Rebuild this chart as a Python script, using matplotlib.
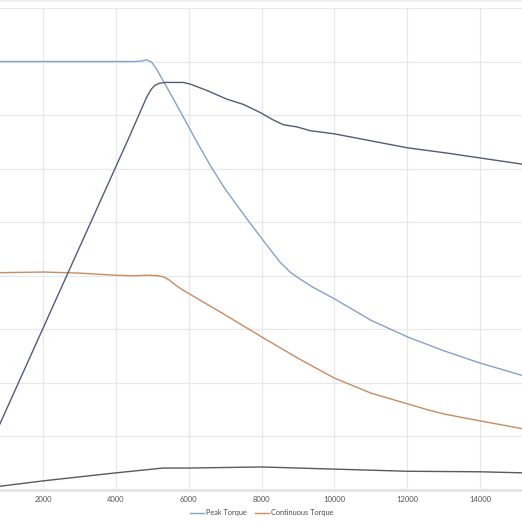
import matplotlib
matplotlib.use("Agg")
import matplotlib.pyplot as plt
from matplotlib.lines import Line2D

# ---- data (rpm vs. values) ----
peak_torque_rpm = [0, 4500, 4700, 4850, 4980, 5100, 5250, 5400, 5800, 6200, 6600, 7000,
                   7600, 8000, 8500, 8800, 9100, 9400, 10000, 11000, 12000, 13000, 14000, 15200]
peak_torque = [80.0, 80.0, 80.1, 80.3, 79.9, 78.8, 77.0, 75.2, 70.3, 65.3, 60.5, 56.2,
               50.6, 47.0, 42.6, 40.6, 39.2, 37.9, 35.7, 31.7, 28.6, 26.0, 23.7, 21.3]

cont_torque_rpm = [0, 2000, 3000, 4000, 4500, 4900, 5150, 5300, 5450, 5650, 5850, 6000, 7000,
                   8000, 9000, 10000, 11000, 12000, 12500, 13000, 14000, 15200]
cont_torque = [40.5, 40.7, 40.5, 40.1, 40.0, 40.1, 40.0, 39.8, 39.3, 38.2, 37.3, 36.7, 32.7,
               28.6, 24.6, 20.9, 18.1, 16.1, 15.1, 14.2, 12.9, 11.4]

peak_power_rpm = [0, 4340, 4850, 4980, 5080, 5200, 5350, 5850, 6040, 6500, 7040, 7500, 7960,
                  8320, 8600, 8970, 9330, 10000, 12000, 13100, 14000, 15200]
peak_power = [0.0, 65.5, 73.4, 74.9, 75.6, 75.95, 76.1, 76.1, 75.8, 74.6, 73.0, 72.0, 70.5,
              69.1, 68.2, 67.8, 67.1, 66.5, 63.9, 62.9, 62.0, 60.8]

cont_power_rpm = [0, 2000, 4000, 5300, 6000, 8000, 10000, 12000, 14000, 15200]
cont_power = [0.0, 1.7, 3.2, 4.1, 4.1, 4.3, 3.9, 3.5, 3.4, 3.2]

x_ticks = [2000, 4000, 6000, 8000, 10000, 12000, 14000]
y_grid = [0, 10, 20, 30, 40, 50, 60, 70, 80, 90]

series_names = ["Peak Torque", "Continuous Torque"]

c_peak = "#86a2c8"
c_cont = "#c98b5f"
c_ppow = "#4f5d7b"
c_cpow = "#5a5a5a"

plt.rcParams['font.family'] = ['Lato', 'DejaVu Sans']

fig = plt.figure(figsize=(5.22, 5.22), dpi=100)
ax = fig.add_axes([0.0, 1 - 490 / 522, 1.0, (490 - 8) / 522])

kw = dict(lw=1.0, zorder=3, solid_joinstyle="round", solid_capstyle="round")
ax.plot(peak_torque_rpm, peak_torque, color=c_peak, **kw)
ax.plot(cont_torque_rpm, cont_torque, color=c_cont, **kw)
ax.plot(peak_power_rpm, peak_power, color=c_ppow, **kw)
ax.plot(cont_power_rpm, cont_power, color=c_cpow, **kw)

ax.set_xlim(820, 15150)
ax.set_ylim(0, 90)
ax.set_xticks(x_ticks)
ax.set_xticklabels([str(t) for t in x_ticks])
ax.set_yticks(y_grid)
ax.set_yticklabels([])
ax.tick_params(axis='both', length=0, labelsize=5.5, colors="#555555", pad=4)
ax.grid(True, color="#e8e8ec", lw=0.9, zorder=0)
for s in ["left", "right", "top"]:
    ax.spines[s].set_visible(False)
ax.spines["bottom"].set_color("#e2e2e2")
ax.spines["bottom"].set_linewidth(1.8)

handles = [Line2D([0], [0], color=c_peak, lw=1.0),
           Line2D([0], [0], color=c_cont, lw=1.0)]
fig.legend(handles, series_names, loc="center", bbox_to_anchor=(262 / 522, 1 - 513 / 522),
           ncol=2, frameon=False, fontsize=5.3, handlelength=1.9, handletextpad=0.25,
           columnspacing=1.1, labelcolor="#4a4a4a")

fig.add_artist(Line2D([0, 1], [1 - 0.8 / 522, 1 - 0.8 / 522], color="#ececec", lw=1.2,
                      transform=fig.transFigure))

fig.savefig("out.png", dpi=100)
